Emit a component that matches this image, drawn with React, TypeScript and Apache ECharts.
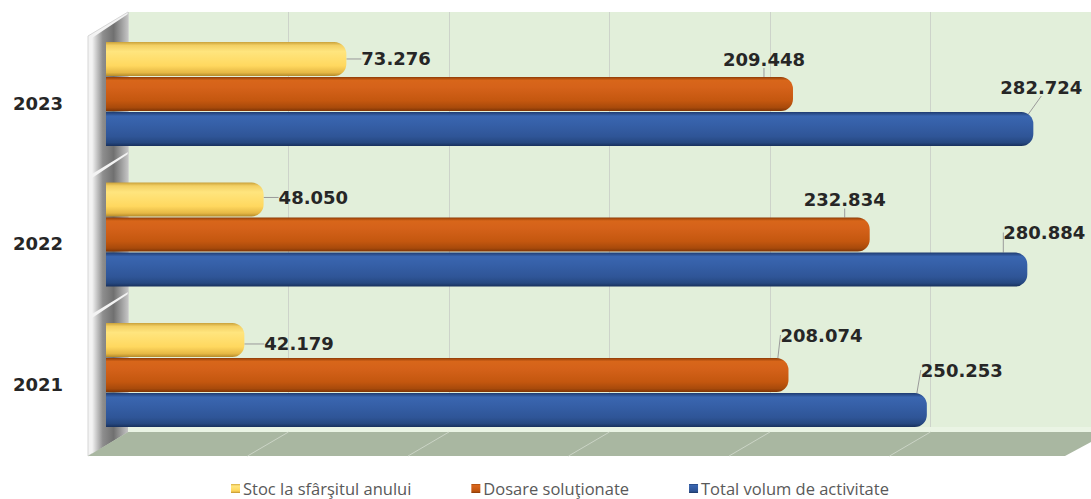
import React, { useEffect, useRef } from 'react';
import * as echarts from 'echarts';

const years = ['2023', '2022', '2021'];
const stockEnd = [73276, 48050, 42179];
const solved = [209448, 232834, 208074];
const totalVolume = [282724, 280884, 250253];
const seriesNames = ['Stoc la sfârşitul anului', 'Dosare soluţionate', 'Total volum de activitate'];
const axisMax = 300000;
const axisStep = 50000;

// label offsets (px) per row, layout only
const stockShift = [[15, 0], [15, -2], [20, 4]];
const solvedShift = [[-70, -35], [-66, -35], [-8, -40]];
const totalShift = [[-33, -42], [-24, -37], [-6, -40]];

const fmt = (v: number) => String(v).replace(/\B(?=(\d{3})+(?!\d))/g, '.');

const grad = (stops: [number, string][]) =>
  new echarts.graphic.LinearGradient(0, 0, 0, 1, stops.map(([offset, color]) => ({ offset, color })));

const yellow = grad([
  [0, '#c9a13a'], [0.1, '#f3d064'], [0.28, '#ffe57e'], [0.7, '#ffd85f'], [0.9, '#e6b845'], [1, '#b48a2a'],
]);
const orange = grad([
  [0, '#8f3c07'], [0.1, '#d8661a'], [0.3, '#d5621a'], [0.7, '#c4570f'], [0.9, '#a84a0b'], [1, '#7e3405'],
]);
const blue = grad([
  [0, '#1f3b70'], [0.12, '#3a66b0'], [0.35, '#3660a8'], [0.72, '#2f5597'], [0.9, '#264880'], [1, '#18305c'],
]);

const labelText = {
  fontFamily: 'DejaVu Sans',
  fontWeight: 'bold' as const,
  fontSize: 18,
  color: '#262626',
};

export default function App() {
  const ref = useRef<HTMLDivElement>(null);
  useEffect(() => {
    document.body.style.margin = '0';
    if (!ref.current) return;
    const chart = echarts.init(ref.current, undefined, { renderer: 'svg' });
    const mkSeries = (name: string, data: number[], color: any, shift: number[][]) => ({
      name,
      type: 'bar',
      xAxisIndex: 0,
      yAxisIndex: 0,
      data,
      barWidth: 34,
      barGap: '3%',
      itemStyle: { color, borderRadius: [0, 12, 12, 0] },
      label: {
        show: true,
        position: 'right',
        distance: 0,
        formatter: (p: any) => fmt(p.value),
        ...labelText,
      },
      labelLayout: (p: any) => ({ dx: shift[p.dataIndex][0], dy: shift[p.dataIndex][1] }),
      labelLine: { show: true, lineStyle: { color: '#9a9a9a', width: 1 } },
      z: 3,
    });
    chart.setOption({
      animation: false,
      grid: [
        { left: 106, top: 23.75, width: 984, height: 421.5 },
        { left: 128, top: 12, width: 978, height: 420, show: true, backgroundColor: '#e2efda', borderWidth: 0 },
      ],
      xAxis: [
        { gridIndex: 0, type: 'value', min: 0, max: axisMax, interval: axisStep, show: false },
        {
          gridIndex: 1, type: 'value', min: 0, max: axisMax, interval: axisStep,
          axisLabel: { show: false }, axisLine: { show: false }, axisTick: { show: false },
          splitLine: { show: true, lineStyle: { color: '#cdd3ca', width: 1 } },
        },
      ],
      yAxis: [
        {
          gridIndex: 0, type: 'category', data: years, inverse: true,
          axisLine: { show: false }, axisTick: { show: false }, splitLine: { show: false },
          axisLabel: { margin: 43, ...labelText, verticalAlign: 'top' },
        },
        { gridIndex: 1, type: 'value', show: false, splitLine: { show: false } },
      ],
      legend: {
        data: seriesNames,
        top: 480,
        left: 231,
        icon: 'rect',
        itemWidth: 9,
        itemHeight: 9,
        itemGap: 60,
        padding: 0,
        textStyle: { fontFamily: 'Open Sans', fontSize: 16.5, color: '#595959', padding: [0, 0, 0, -2], lineHeight: 17 },
      },
      series: [
        mkSeries(seriesNames[0], stockEnd, yellow, stockShift),
        mkSeries(seriesNames[1], solved, orange, solvedShift),
        mkSeries(seriesNames[2], totalVolume, blue, totalShift),
      ],
    });

    const floorTop = 432;
    const floorBottom = 456;
    const ticks: number[] = [];
    for (let v = axisStep; v < axisMax; v += axisStep) ticks.push(v);
    const floorLines = ticks.map((v) => {
      const x = (chart.convertToPixel({ xAxisIndex: 1 }, v) as number);
      return {
        type: 'line',
        z: 1,
        shape: { x1: x, y1: floorTop, x2: x - 41, y2: floorBottom },
        style: { stroke: '#cbd4c6', lineWidth: 1 },
      };
    });
    const wallShadows = [0, 1, 2].map((i) => {
      const y0 = 14 + i * 140;
      return {
        type: 'polygon',
        z: 1,
        shape: { points: [[92, y0 + 24], [128, y0], [128, y0 + 138], [92, y0 + 160]] },
        style: {
          fill: new echarts.graphic.LinearGradient(0, 0, 1, 0, [
            { offset: 0, color: '#f4f4f4' },
            { offset: 0.3, color: '#8e8e8e' },
            { offset: 0.6, color: '#707070' },
            { offset: 1, color: '#c4c4c4' },
          ]),
        },
      };
    });
    chart.setOption({
      graphic: [
        {
          type: 'polygon',
          z: 1,
          shape: { points: [[88, 36], [128, 12], [128, 432], [88, 456]] },
          style: { fill: '#f3f3f3', stroke: '#d6d6d6', lineWidth: 1 },
        },
        ...wallShadows,
        {
          type: 'rect',
          z: 1,
          shape: { x: 128, y: 427, width: 963, height: 5 },
          style: { fill: '#eaf4e4' },
        },
        {
          type: 'polygon',
          z: 1,
          shape: { points: [[128, floorTop], [1091, floorTop], [1091, 442], [1065, floorBottom], [88, floorBottom]] },
          style: { fill: '#a9b7a1' },
        },
        ...floorLines,
      ],
    });
    return () => chart.dispose();
  }, []);
  return <div ref={ref} style={{ width: 1091, height: 499 }} />;
}
